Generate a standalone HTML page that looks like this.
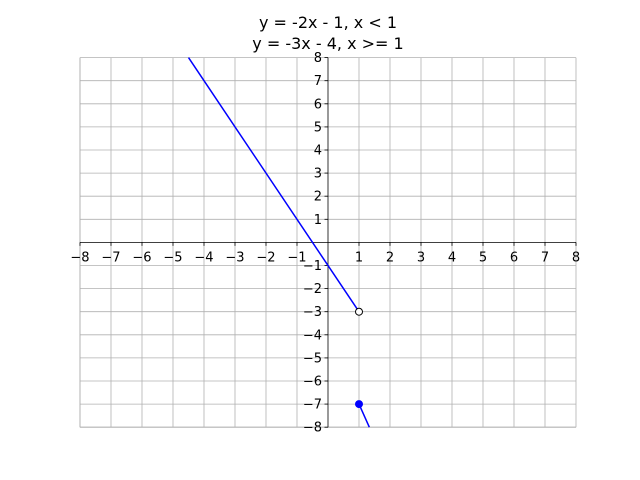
<!DOCTYPE html>
<html><head><meta charset="utf-8"><style>
body{margin:0;background:#fff}
svg{display:block;font-family:"DejaVu Sans","Liberation Sans",sans-serif}
</style></head><body>
<svg id="chart" width="640" height="480"></svg>
<script>
const xTicks=[-8,-7,-6,-5,-4,-3,-2,-1,1,2,3,4,5,6,7,8];
const yTicks=[-8,-7,-6,-5,-4,-3,-2,-1,1,2,3,4,5,6,7,8];
const piece1X=[-4.5,1];
const piece1Y=[8,-3];
const piece2X=[1,4/3];
const piece2Y=[-7,-8];
const openPoint=[1,-3];
const closedPoint=[1,-7];
const titleLines=["y = -2x - 1, x < 1","y = -3x - 4, x >= 1"];

const L=80,R=576,T=57.6,B=427.2;
const sx=v=>L+(v+8)/16*(R-L);
const sy=v=>B-(v+8)/16*(B-T);
const svg=document.getElementById('chart');
const NS='http://www.w3.org/2000/svg';
function mk(tag,attrs,parent){const e=document.createElementNS(NS,tag);for(const k in attrs)e.setAttribute(k,attrs[k]);(parent||svg).appendChild(e);return e;}

const grid=mk('g',{});


[-8,...xTicks].forEach(v=>{mk('line',{x1:sx(v),x2:sx(v),y1:T,y2:B,stroke:'#b0b0b0','stroke-width':0.8},grid);});
[-8,...yTicks].forEach(v=>{mk('line',{x1:L,x2:R,y1:sy(v),y2:sy(v),stroke:'#b0b0b0','stroke-width':0.8},grid);});

const xa=mk('line',{x1:L,x2:R,y1:sy(0),y2:sy(0),stroke:'#000','stroke-width':0.8});


const ya=mk('line',{x1:sx(0),x2:sx(0),y1:T,y2:B,stroke:'#000','stroke-width':0.8});



xTicks.forEach(v=>{
  mk('line',{x1:sx(v),x2:sx(v),y1:sy(0),y2:sy(0)+3.5,stroke:'#000','stroke-width':0.8});
  const t=mk('text',{x:sx(v),y:sy(0)+19,'text-anchor':'middle','font-size':13});
  t.textContent=v<0?'\u2212'+(-v):v;
  
  
});
yTicks.forEach(v=>{
  mk('line',{x1:sx(0)-3.5,x2:sx(0),y1:sy(v),y2:sy(v),stroke:'#000','stroke-width':0.8});
  const t=mk('text',{x:sx(0)-6,y:sy(v)+4.5,'text-anchor':'end','font-size':13});
  t.textContent=v<0?'\u2212'+(-v):v;
  
  
});

const l1=mk('line',{x1:sx(piece1X[0]),y1:sy(piece1Y[0]),x2:sx(piece1X[1]),y2:sy(piece1Y[1]),stroke:'#0000ff','stroke-width':1.5});


const l2=mk('line',{x1:sx(piece2X[0]),y1:sy(piece2Y[0]),x2:sx(piece2X[1]),y2:sy(piece2Y[1]),stroke:'#0000ff','stroke-width':1.5});



const op=mk('circle',{cx:sx(openPoint[0]),cy:sy(openPoint[1]),r:3.5,fill:'#fff',stroke:'#000','stroke-width':1});


const cp=mk('circle',{cx:sx(closedPoint[0]),cy:sy(closedPoint[1]),r:3.5,fill:'#0000ff',stroke:'#0000ff','stroke-width':1});



titleLines.forEach((s,i)=>{
  const t=mk('text',{x:328,y:28+i*21,'text-anchor':'middle','font-size':16});
  t.textContent=s;
  
  
});
</script>
</body></html>
